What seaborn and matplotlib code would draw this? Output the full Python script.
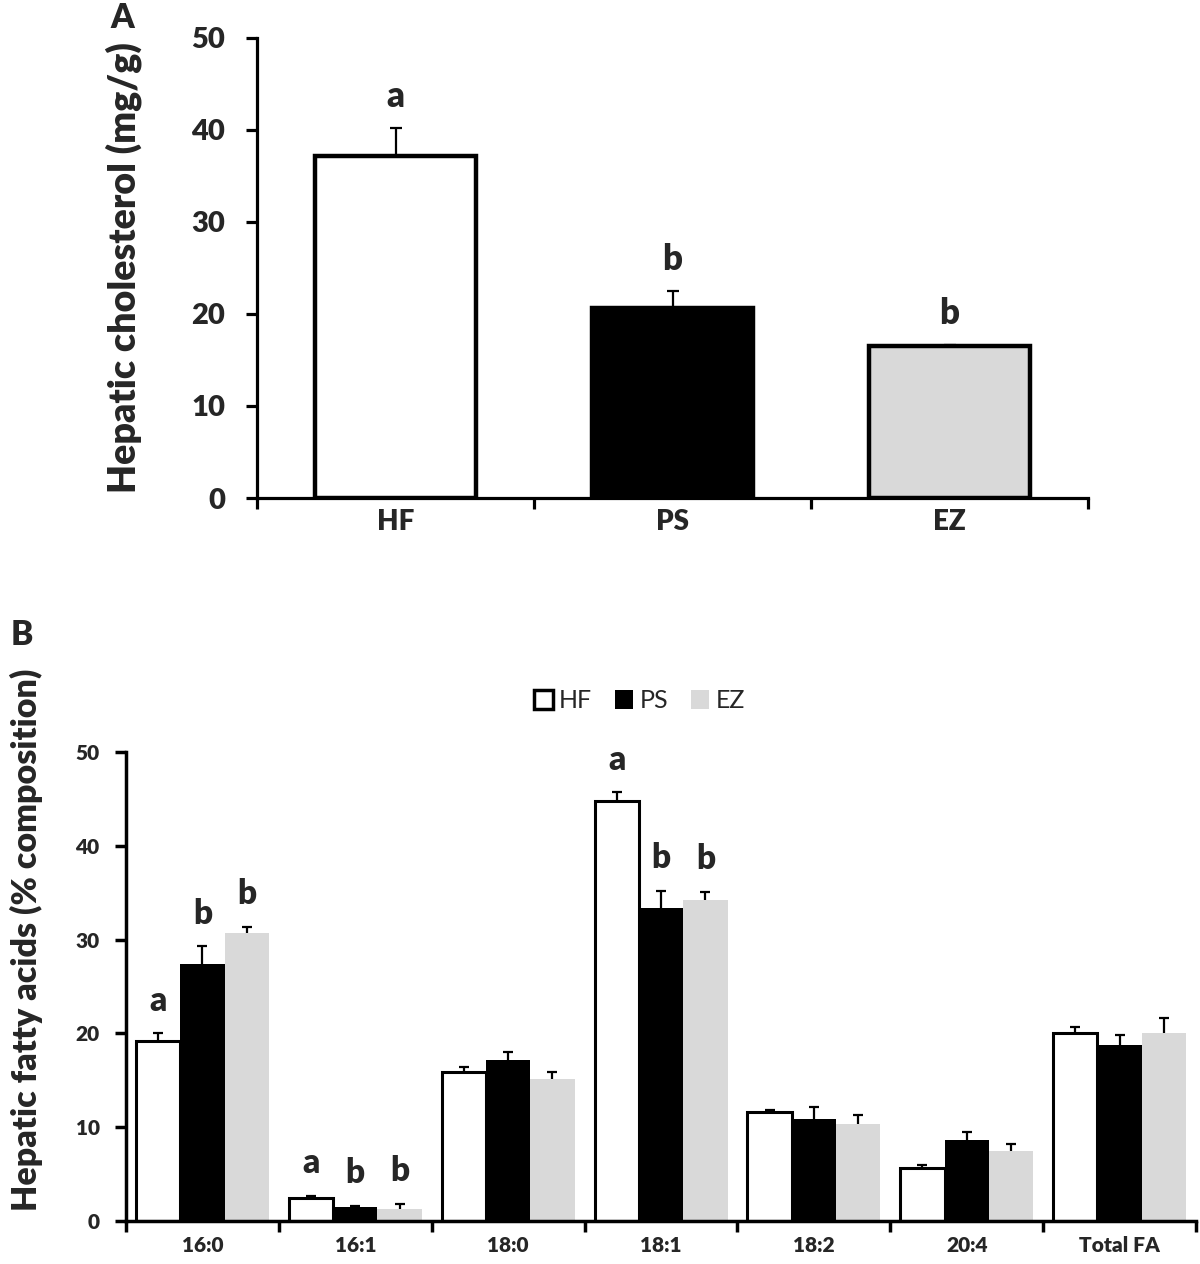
import numpy as np
import pandas as pd
import matplotlib
matplotlib.use("Agg")
import matplotlib.pyplot as plt
import seaborn as sns
from matplotlib.patches import Patch

# ---- data -----------------------------------------------------------
groups = ["HF", "PS", "EZ"]
group_colors = ["#ffffff", "#000000", "#d9d9d9"]

# Panel A: hepatic cholesterol (mg/g)
chol_mean = [37.2, 20.6, 16.5]
chol_err = [3.0, 1.9, 0.15]
chol_letters = ["a", "b", "b"]

# Panel B: hepatic fatty acids (% composition)
fatty_acids = ["16:0", "16:1", "18:0", "18:1", "18:2", "20:4", "Total FA"]
fa_hf = [19.2, 2.5, 15.9, 44.8, 11.6, 5.7, 20.0]
fa_ps = [27.4, 1.5, 17.2, 33.4, 10.9, 8.6, 18.8]
fa_ez = [30.7, 1.3, 15.1, 34.2, 10.3, 7.5, 20.0]
fa_hf_err = [0.8, 0.2, 0.5, 0.9, 0.2, 0.3, 0.7]
fa_ps_err = [1.9, 0.1, 0.8, 1.8, 1.3, 0.9, 1.0]
fa_ez_err = [0.7, 0.5, 0.8, 0.9, 1.0, 0.7, 1.7]
fa_hf_letters = ["a", "a", "", "a", "", "", ""]
fa_ps_letters = ["b", "b", "", "b", "", "", ""]
fa_ez_letters = ["b", "b", "", "b", "", "", ""]

# ---- style ----------------------------------------------------------
sns.set_theme(style="ticks")
plt.rcParams["font.family"] = ["Lato", "DejaVu Sans"]
plt.rcParams["axes.spines.top"] = False
plt.rcParams["axes.spines.right"] = False
BOLD = "heavy"

fig = plt.figure(figsize=(12, 12.64), dpi=100)
axA = fig.add_axes([0.2142, 0.606, 0.6925, 0.364])
axB = fig.add_axes([0.105, 0.034, 0.8917, 0.371])


def upper_errorbars(ax, xs, ys, errs, lw, cap):
    eb = ax.errorbar(xs, ys, yerr=[np.zeros(len(errs)), errs], fmt="none",
                     ecolor="black", elinewidth=lw, capsize=cap, capthick=lw,
                     zorder=5)
    eb.lines[1][0].set_visible(False)  # hide lower caps


def style_axis(ax, ncat, spine_w, tick_len, ylab_pad, xlab_pad, xfs, yfs):
    for s in ["left", "bottom"]:
        ax.spines[s].set_linewidth(spine_w)
        ax.spines[s].set_color("black")
    ax.set_xlim(-0.5, ncat - 0.5)
    ax.set_ylim(0, 50)
    ax.set_yticks([0, 10, 20, 30, 40, 50])
    ax.set_xticks(np.arange(ncat))
    ax.set_xticks(np.arange(ncat + 1) - 0.5, minor=True)
    ax.tick_params(axis="x", which="major", length=0, pad=xlab_pad,
                   labelsize=xfs)
    ax.tick_params(axis="x", which="minor", length=tick_len, width=spine_w,
                   direction="out", color="black")
    ax.tick_params(axis="y", length=tick_len, width=spine_w, direction="out",
                   pad=ylab_pad, labelsize=yfs, color="black")
    for lab in ax.get_xticklabels() + ax.get_yticklabels():
        lab.set_fontweight(BOLD)


# ---- panel A --------------------------------------------------------
sns.barplot(x=groups, y=chol_mean, hue=groups, palette=group_colors,
            legend=False, width=0.58, edgecolor="black", linewidth=3.2,
            ax=axA)
barsA = [p for c in list(axA.containers) for p in c]
xA = [p.get_x() + p.get_width() / 2 for p in barsA]
upper_errorbars(axA, xA, chol_mean, chol_err, 1.6, 4.5)
for x, y, e, t in zip(xA, chol_mean, chol_err, chol_letters):
    axA.annotate(t, (x, y + e), xytext=(0, 11), textcoords="offset points",
                 ha="center", va="bottom", fontsize=25, fontweight=BOLD)
style_axis(axA, 3, 2.3, 8, 15, 8, 20, 21)
axA.set_xlabel("")
axA.set_ylabel("Hepatic cholesterol (mg/g)", fontsize=27, fontweight=BOLD)
axA.yaxis.set_label_coords(-0.139, 0.5)

# ---- panel B --------------------------------------------------------
df = pd.DataFrame({
    "fa": fatty_acids * 3,
    "group": np.repeat(groups, len(fatty_acids)),
    "value": fa_hf + fa_ps + fa_ez,
})
sns.barplot(data=df, x="fa", y="value", hue="group", hue_order=groups,
            palette=group_colors, width=0.87, errorbar=None, linewidth=0,
            legend=False, ax=axB)
bar_conts = list(axB.containers)
series_err = [fa_hf_err, fa_ps_err, fa_ez_err]
series_val = [fa_hf, fa_ps, fa_ez]
series_let = [fa_hf_letters, fa_ps_letters, fa_ez_letters]
for i, cont in enumerate(bar_conts):
    xs = [p.get_x() + p.get_width() / 2 for p in cont]
    for p in cont:
        if i == 0:
            p.set_edgecolor("black")
            p.set_linewidth(2.2)
        else:
            p.set_edgecolor(group_colors[i])
            p.set_linewidth(0)
    upper_errorbars(axB, xs, series_val[i], series_err[i], 1.6, 3.5)
    for x, y, e, t in zip(xs, series_val[i], series_err[i], series_let[i]):
        if t:
            axB.annotate(t, (x, y + e), xytext=(0, 12),
                         textcoords="offset points", ha="center",
                         va="bottom", fontsize=24, fontweight=BOLD)
style_axis(axB, len(fatty_acids), 2.5, 8, 11, 11, 15, 15)
axB.set_xlabel("")
axB.set_ylabel("Hepatic fatty acids (% composition)", fontsize=24.5,
               fontweight=BOLD)
axB.yaxis.set_label_coords(-0.078, 0.60)

handles = [Patch(facecolor=c, edgecolor="black" if g == "HF" else c,
                 linewidth=2.5 if g == "HF" else 0)
           for g, c in zip(groups, group_colors)]
fig.legend(handles, groups, loc="center", bbox_to_anchor=(0.533, 0.446),
           ncol=3, frameon=False, fontsize=18, handlelength=0.75,
           handleheight=0.8, handletextpad=0.25, columnspacing=0.9)

# panel letters
fig.text(122 / 1200, 1 - 18 / 1264, "A", fontsize=24, fontweight=BOLD,
         ha="center", va="center")
fig.text(22 / 1200, 1 - 635 / 1264, "B", fontsize=24, fontweight=BOLD,
         ha="center", va="center")

fig.savefig("out.png", dpi=100, facecolor="white")
